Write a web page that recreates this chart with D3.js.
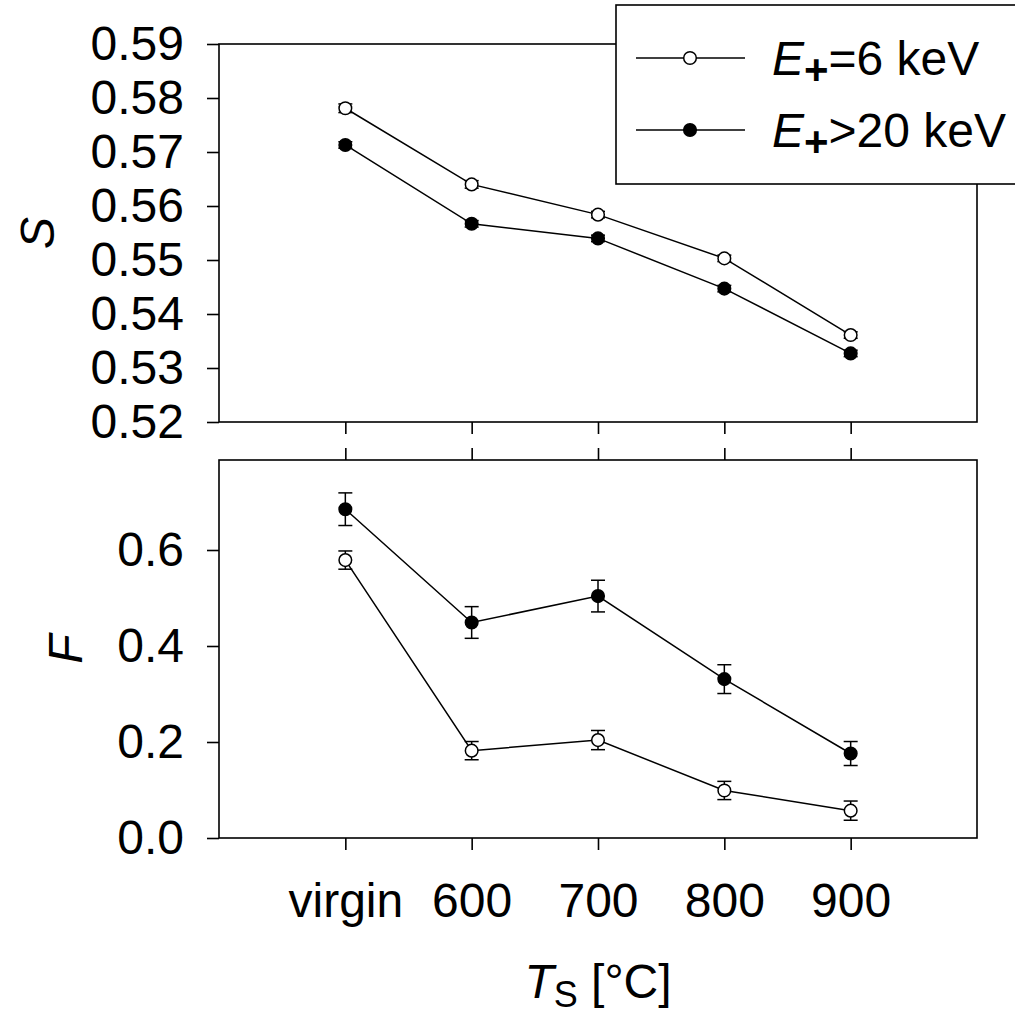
<!DOCTYPE html>
<html>
<head>
<meta charset="utf-8">
<script src="https://cdn.jsdelivr.net/npm/d3@7"></script>
<style>
  html, body { margin: 0; padding: 0; background: #fff; }
  svg { display: block; }
  text { font-family: "Liberation Sans", Arial, sans-serif; fill: #000; }
</style>
</head>
<body>
<svg id="chart" width="1015" height="1015"></svg>
<script>
// ---------------- data ----------------
const categories = ["virgin", "600", "700", "800", "900"];
const S_6keV      = [0.5781, 0.5640, 0.5584, 0.5503, 0.5361];
const S_6keV_err  = [0.0008, 0.0007, 0.0006, 0.0006, 0.0006];
const S_20keV     = [0.5713, 0.5567, 0.5540, 0.5447, 0.5327];
const S_20keV_err = [0.0006, 0.0006, 0.0006, 0.0006, 0.0006];
const F_6keV      = [0.579, 0.182, 0.204, 0.099, 0.057];
const F_6keV_err  = [0.019, 0.019, 0.020, 0.019, 0.020];
const F_20keV     = [0.685, 0.449, 0.504, 0.331, 0.176];
const F_20keV_err = [0.034, 0.033, 0.033, 0.030, 0.025];
const S_ticks = [0.52, 0.53, 0.54, 0.55, 0.56, 0.57, 0.58, 0.59];
const F_ticks = [0.0, 0.2, 0.4, 0.6];
const legendLabels = [["E", "+", "=6 keV"], ["E", "+", ">20 keV"]];

// ---------------- layout ----------------
const svg = d3.select("#chart");
const left = 219, right = 977;
const top1 = 44, bot1 = 422;
const top2 = 460, bot2 = 838;
const FONT = 48;

const x = d3.scaleLinear().domain([-1, 5]).range([left, right]);
const yS = d3.scaleLinear().domain([0.52, 0.59]).range([bot1, top1]);
const yF = d3.scaleLinear().domain([0, 0.7875]).range([bot2, top2]);
const idx = categories.map((d, i) => i);

function styleAxis(g) {
  g.selectAll("path.domain").remove();
  g.selectAll(".tick line").attr("stroke", "#000").attr("stroke-width", 1.6);
  g.selectAll(".tick text").attr("font-size", FONT).attr("fill", "#000")
    .style("font-family", '"Liberation Sans", Arial, sans-serif');
}

// frames
function frame(t, b) {
  svg.append("rect").attr("x", left).attr("y", t)
    .attr("width", right - left).attr("height", b - t)
    .attr("fill", "none").attr("stroke", "#000").attr("stroke-width", 1.6);
}
frame(top1, bot1);
frame(top2, bot2);

// axes - top panel
svg.append("g").attr("transform", `translate(${left},0)`)
  .call(d3.axisLeft(yS).tickValues(S_ticks).tickFormat(d3.format(".2f"))
    .tickSize(12).tickSizeOuter(0).tickPadding(23)).call(styleAxis);
svg.append("g").attr("transform", `translate(0,${bot1})`)
  .call(d3.axisBottom(x).tickValues(idx).tickFormat("")
    .tickSize(12).tickSizeOuter(0)).call(styleAxis);

// axes - bottom panel
svg.append("g").attr("transform", `translate(${left},0)`)
  .call(d3.axisLeft(yF).tickValues(F_ticks).tickFormat(d3.format(".1f"))
    .tickSize(12).tickSizeOuter(0).tickPadding(23)).call(styleAxis);
svg.append("g").attr("transform", `translate(0,${bot2})`)
  .call(d3.axisBottom(x).tickValues(idx).tickFormat(i => categories[i])
    .tickSize(12).tickSizeOuter(0).tickPadding(33)).call(styleAxis);
svg.append("g").attr("transform", `translate(0,${top2})`)
  .call(d3.axisTop(x).tickValues(idx).tickFormat("")
    .tickSize(12).tickSizeOuter(0)).call(styleAxis);

// series drawing
function series(y, vals, errs, filled) {
  const pts = vals.map((v, i) => ({ i, v, e: errs[i] }));
  const g = svg.append("g");
  g.append("path").datum(pts)
    .attr("d", d3.line().x(d => x(d.i)).y(d => y(d.v)))
    .attr("fill", "none").attr("stroke", "#000").attr("stroke-width", 1.5);
  const eb = g.selectAll("g.eb").data(pts).join("g");
  eb.append("line").attr("x1", d => x(d.i)).attr("x2", d => x(d.i))
    .attr("y1", d => y(d.v - d.e)).attr("y2", d => y(d.v + d.e))
    .attr("stroke", "#000").attr("stroke-width", 1.5);
  [-1, 1].forEach(s => {
    eb.append("line").attr("x1", d => x(d.i) - 7).attr("x2", d => x(d.i) + 7)
      .attr("y1", d => y(d.v + s * d.e)).attr("y2", d => y(d.v + s * d.e))
      .attr("stroke", "#000").attr("stroke-width", 1.5);
  });
  g.selectAll("circle").data(pts).join("circle")
    .attr("cx", d => x(d.i)).attr("cy", d => y(d.v)).attr("r", 6.3)
    .attr("fill", filled ? "#000" : "#fff").attr("stroke", "#000").attr("stroke-width", 1.5);
}
series(yS, S_6keV, S_6keV_err, false);
series(yS, S_20keV, S_20keV_err, true);
series(yF, F_6keV, F_6keV_err, false);
series(yF, F_20keV, F_20keV_err, true);

// axis titles
svg.append("text").attr("transform", "translate(54,233) rotate(-90)")
  .attr("text-anchor", "middle").attr("font-size", FONT).attr("font-style", "italic").text("S");
svg.append("text").attr("transform", "translate(82,649) rotate(-90)")
  .attr("text-anchor", "middle").attr("font-size", FONT).attr("font-style", "italic").text("F");

const xt = svg.append("text").attr("x", 598).attr("y", 998)
  .attr("text-anchor", "middle").attr("font-size", FONT);
xt.append("tspan").attr("font-style", "italic").text("T");
xt.append("tspan").attr("font-size", 36).attr("dy", 9).text("S");
xt.append("tspan").attr("dy", -9).text(" [°C]");

// legend
const lg = svg.append("g");
lg.append("rect").attr("x", 616).attr("y", 5).attr("width", 420).attr("height", 179)
  .attr("fill", "#fff").attr("stroke", "#000").attr("stroke-width", 1.6);
const rowsY = [58, 130];
legendLabels.forEach((lab, k) => {
  const yy = rowsY[k];
  lg.append("line").attr("x1", 636).attr("x2", 745).attr("y1", yy).attr("y2", yy)
    .attr("stroke", "#000").attr("stroke-width", 1.5);
  lg.append("circle").attr("cx", 690).attr("cy", yy).attr("r", 6.3)
    .attr("fill", k === 0 ? "#fff" : "#000").attr("stroke", "#000").attr("stroke-width", 1.5);
  const t = lg.append("text").attr("x", 772).attr("y", yy + 17).attr("font-size", FONT);
  t.append("tspan").attr("font-style", "italic").text(lab[0]);
  t.append("tspan").attr("font-size", 42).attr("font-weight", "bold").attr("dy", 9).text(lab[1]);
  t.append("tspan").attr("dy", -9).text(lab[2]);
});
</script>
</body>
</html>
